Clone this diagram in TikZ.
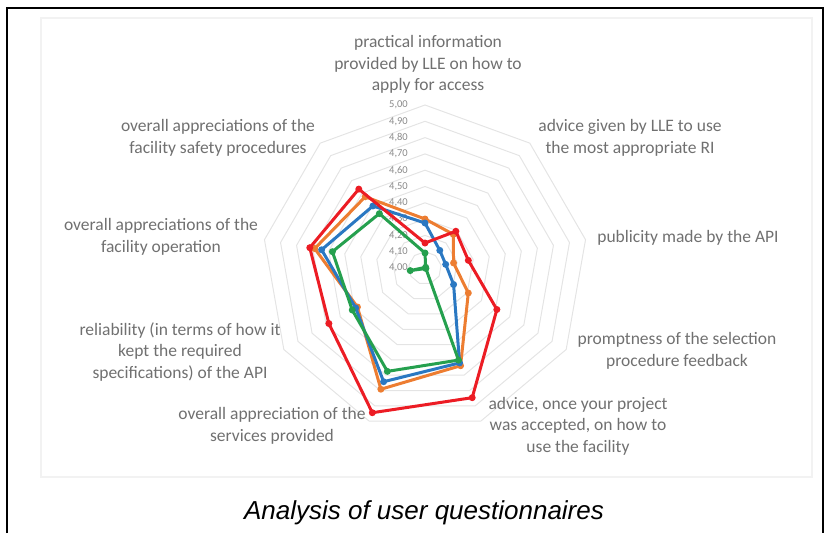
\documentclass[tikz,border=0pt]{standalone}
\usepackage{fontspec}
\setmainfont{Carlito}
\newfontfamily\capfont{Liberation Sans}
\definecolor{sred}{HTML}{EC1C24}
\definecolor{sorange}{HTML}{ED7D31}
\definecolor{sblue}{HTML}{2A78C2}
\definecolor{sgreen}{HTML}{25A04E}
\definecolor{labgray}{HTML}{707070}
\definecolor{tickgray}{HTML}{8A8A8A}
\definecolor{ringgray}{HTML}{E4E4E4}
\tikzset{
  catlabel/.style={align=center, text=labgray, font=\fontsize{17.5}{21.5}\selectfont, inner sep=0pt},
  ticklabel/.style={anchor=east, text=tickgray, font=\fontsize{10.5}{12}\selectfont, inner sep=0pt},
  ring/.style={draw=ringgray, line width=1pt},
  serie/.style={line width=3pt, line join=round}
}
\newcommand\radarseries[2]{%
  \foreach \r [count=\i from 0] in {#2} {
    \coordinate (#1-\i) at ({425+\r*sin(40*\i)},{268-\r*cos(40*\i)});
  }
  \draw[serie,#1] (#1-0) -- (#1-1) -- (#1-2) -- (#1-3) -- (#1-4) -- (#1-5) -- (#1-6) -- (#1-7) -- (#1-8) -- cycle;
  \foreach \i in {0,...,8} { \fill[#1] (#1-\i) circle (3.5); }
}
\begin{document}
\begin{tikzpicture}[x=1pt,y=-1pt]
\useasboundingbox (0,0) rectangle (829,533);
% outer frame (open at bottom)
\draw[line width=2pt, black] (6.5,533) -- (6.5,7.5) -- (822.5,7.5) -- (822.5,533);
% chart area
\draw[draw=black!5, line width=1.5pt] (41,18) rectangle (812,477);
% rings
\foreach \k in {1,...,10} {
  \draw[ring] (425,{268-16.3*\k}) \foreach \i in {1,...,8} { -- ({425+16.3*\k*sin(40*\i)},{268-16.3*\k*cos(40*\i)}) } -- cycle;
}
% tick labels
\foreach \k/\t in {0/4{,}00,1/4{,}10,2/4{,}20,3/4{,}30,4/4{,}40,5/4{,}50,6/4{,}60,7/4{,}70,8/4{,}80,9/4{,}90,10/5{,}00} {
  \node[ticklabel] (tick\k) at (408,{268-16.3*\k}) {\t};
}
% series
\radarseries{sorange}{49,44,29,50,104,129,78,112,93}
\radarseries{sblue}{45,23,21,33,101,121,80,105,81}
\radarseries{sgreen}{15,1,-15,1,98,110,84,94,71}
\radarseries{sred}{25,48,44,83,138,154,111,117,103}
% category labels
\node[catlabel] (c0) at (428,64.6) {practical information\\provided by LLE on how to\\apply for access};
\node[catlabel] (c1) at (630,138) {advice given by LLE to use\\the most appropriate RI};
\node[catlabel] (c2) at (688,238) {publicity made by the API};
\node[catlabel] (c3) at (677,351) {promptness of the selection\\procedure feedback};
\node[catlabel] (c4) at (578,426) {advice, once your project\\was accepted, on how to\\use the facility};
\node[catlabel] (c5) at (272,426) {overall appreciation of the\\services provided};
\node[catlabel] (c6) at (180,352) {reliability (in terms of how it\\kept the required\\specifications) of the API};
\node[catlabel] (c7) at (161,237) {overall appreciations of the\\facility operation};
\node[catlabel] (c8) at (218,138) {overall appreciations of the\\facility safety procedures};
% caption
\node[inner sep=0pt, font=\capfont\itshape\fontsize{26}{30}\selectfont] (cap) at (424,513) {Analysis of user questionnaires};
\end{tikzpicture}
\end{document}
